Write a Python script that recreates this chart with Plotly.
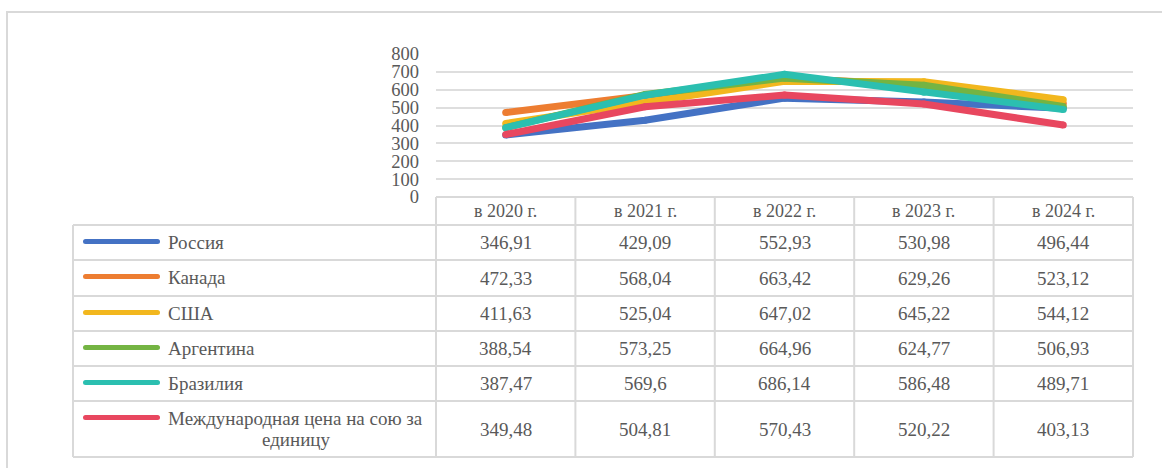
import plotly.graph_objects as go

W, H = 1162, 468

years = ["в 2020 г.", "в 2021 г.", "в 2022 г.", "в 2023 г.", "в 2024 г."]
series_names = ["Россия", "Канада", "США", "Аргентина", "Бразилия",
                "Международная цена на сою за<br>единицу"]
russia = [346.91, 429.09, 552.93, 530.98, 496.44]
canada = [472.33, 568.04, 663.42, 629.26, 523.12]
usa = [411.63, 525.04, 647.02, 645.22, 544.12]
argentina = [388.54, 573.25, 664.96, 624.77, 506.93]
brazil = [387.47, 569.6, 686.14, 586.48, 489.71]
intl_price = [349.48, 504.81, 570.43, 520.22, 403.13]
series_values = [russia, canada, usa, argentina, brazil, intl_price]
colors = ["#4472C4", "#ED7D31", "#F2B71E", "#74B443", "#2BBFB0", "#E8475F"]
y_ticks = [0, 100, 200, 300, 400, 500, 600, 700, 800]

FONT = "Liberation Serif"
TXT = "#595959"
GRID = "#dedede"
FS = 19

def py(p):
    return 1 - p / H

def px(p):
    return p / W

plot_left, plot_right = 436, 1133
y0_px, y800_px = 197, 54

fig = go.Figure()
for name, vals, c in zip(series_names, series_values, colors):
    fig.add_trace(go.Scatter(
        x=list(range(len(years))), y=vals, mode="lines+markers", name=name,
        line=dict(color=c, width=7), marker=dict(color=c, size=7),
        showlegend=False, hoverinfo="skip"))

shapes = []
annotations = []
# outer border
shapes.append(dict(type="line", xref="paper", yref="paper", x0=px(6), x1=1.01,
                   y0=py(12), y1=py(12), line=dict(color="#d9d9d9", width=2)))
shapes.append(dict(type="line", xref="paper", yref="paper", x0=px(7), x1=px(7),
                   y0=py(12), y1=-0.01, line=dict(color="#d9d9d9", width=2)))

# table
cols_px = [plot_left + i * (plot_right - plot_left) / 5 for i in range(6)]
rows_px = [225, 260, 296, 331, 366, 401, 457]
tl = dict(color="#d9d9d9", width=2)
shapes.append(dict(type="line", xref="paper", yref="paper", x0=px(plot_left), x1=px(plot_right),
                   y0=py(197), y1=py(197), line=tl))
for r in rows_px:
    shapes.append(dict(type="line", xref="paper", yref="paper", x0=px(73), x1=px(plot_right),
                       y0=py(r), y1=py(r), line=tl))
shapes.append(dict(type="line", xref="paper", yref="paper", x0=px(73), x1=px(73),
                   y0=py(225), y1=py(457), line=tl))
for cx in cols_px:
    shapes.append(dict(type="line", xref="paper", yref="paper", x0=px(cx), x1=px(cx),
                       y0=py(197), y1=py(457), line=tl))

for i, yl in enumerate(years):
    annotations.append(dict(x=i, xref="x", y=py(211), yref="paper", text=yl,
                            xanchor="center", yanchor="middle",
                            showarrow=False, font=dict(family=FONT, size=FS - 1, color=TXT)))

for r, (name, vals, c) in enumerate(zip(series_names, series_values, colors)):
    top, bot = rows_px[r], rows_px[r + 1]
    cy = (top + bot) / 2
    for i, v in enumerate(vals):
        annotations.append(dict(x=i, xref="x", y=py(cy), yref="paper",
                                xanchor="center", yanchor="middle",
                                text=f"{v:g}".replace(".", ","), showarrow=False,
                                font=dict(family=FONT, size=FS, color=TXT)))
    ly = top + 16.5
    shapes.append(dict(type="line", xref="paper", yref="paper", x0=px(85.5), x1=px(157.5),
                       y0=py(ly), y1=py(ly), line=dict(color=c, width=5)))
    for ex in (85.5, 157.5):
        shapes.append(dict(type="circle", xref="paper", yref="paper",
                           xsizemode="pixel", ysizemode="pixel",
                           xanchor=px(ex), yanchor=py(ly),
                           x0=-2.5, x1=2.5, y0=-2.5, y1=2.5,
                           fillcolor=c, line=dict(width=0)))
    parts = name.split("<br>")
    annotations.append(dict(x=px(166), xref="paper", y=py(ly + 1), yref="paper",
                            text=parts[0], showarrow=False, xanchor="left",
                            yanchor="middle",
                            font=dict(family=FONT, size=FS, color=TXT)))
    if len(parts) > 1:
        annotations.append(dict(x=px(296), xref="paper", y=py(ly + 22), yref="paper",
                                text=parts[1], showarrow=False, xanchor="center",
                                yanchor="middle",
                                font=dict(family=FONT, size=FS, color=TXT)))

fig.update_layout(
    width=W, height=H, margin=dict(l=0, r=0, t=0, b=0),
    paper_bgcolor="white", plot_bgcolor="white",
    shapes=shapes, annotations=annotations,
    xaxis=dict(domain=[px(plot_left), px(plot_right)], range=[-0.5, 4.5], automargin=False,
               showticklabels=False, showgrid=False, zeroline=False, showline=False),
    yaxis=dict(domain=[py(y0_px), py(y800_px)], range=[0, 800], tickvals=y_ticks,
               automargin=False,
               showgrid=True, gridcolor=GRID, gridwidth=2, zeroline=False,
               showline=False, ticks="", ticklabelstandoff=16,
               tickfont=dict(family=FONT, size=FS - 0.5, color=TXT)),
)

post = (
    "document.documentElement.style.margin='0';"
    "document.documentElement.style.overflow='hidden';"
    "document.body.style.margin='0';document.body.style.overflow='hidden';"
    "var d=document.getElementById('{plot_id}');"
    "d.style.position='fixed';d.style.top='0px';d.style.left='0px';"
)
fig.write_html("out.html", config={"displayModeBar": False}, post_script=post)
